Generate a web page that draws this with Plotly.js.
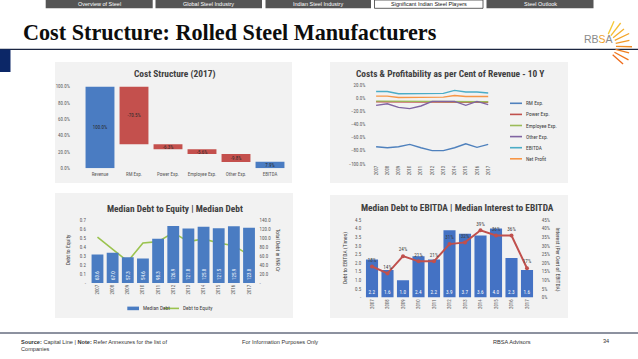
<!DOCTYPE html>
<html><head><meta charset="utf-8">
<script src="https://cdn.plot.ly/plotly-3.0.1.min.js"></script>
<style>html,body{margin:0;padding:0;background:#fff;overflow:hidden}#chart{width:638px;height:359px}</style>
</head><body><div id="chart"></div>
<script>
// ================= DATA =================
const navTabs = ['Overview of Steel', 'Global Steel Industry', 'Indian Steel Industry', 'Significant Indian Steel Players', 'Steel Outlook'];
const activeTab = 3;
const pageTitle = 'Cost Structure: Rolled Steel Manufacturers';

// Chart 1: Cost Structure (2017)
const costTitle = 'Cost Structure (2017)';
const costCategories = ['Revenue', 'RM Exp.', 'Power Exp.', 'Employee Exp.', 'Other Exp.', 'EBITDA'];
const costValues = [100.0, -70.5, -6.3, -5.6, -9.8, 7.9];
const costMeasures = ['absolute', 'relative', 'relative', 'relative', 'relative', 'absolute'];

// Chart 2: Costs & Profitability as per cent of revenue
const trendTitle = 'Costs & Profitability as per Cent of Revenue - 10 Y';
const years = ['2007', '2008', '2009', '2010', '2011', '2012', '2013', '2014', '2015', '2016', '2017'];
const rmExp       = [-74.0, -75.5, -74.0, -70.5, -75.5, -80.0, -80.0, -75.5, -69.5, -75.0, -70.5];
const powerExp    = [-5.5, -5.5, -6.0, -6.0, -6.0, -6.0, -6.0, -6.0, -6.2, -6.2, -6.3];
const employeeExp = [-4.5, -4.5, -5.0, -5.0, -5.0, -5.0, -5.0, -5.0, -5.5, -5.5, -5.6];
const otherExp    = [-11.0, -8.5, -14.0, -16.0, -12.0, -5.0, -5.0, -5.0, -11.0, -5.0, -9.8];
const ebitda      = [10.2, 10.2, 6.7, 6.7, 6.7, 7.2, 7.2, 11.8, 9.3, 9.3, 7.9];
const netProfit   = [3.0, 3.0, 1.0, 1.0, 1.0, 1.5, 1.5, 4.0, 2.5, 2.5, 2.6];
const trendNames  = ['RM Exp.', 'Power Exp.', 'Employee Exp.', 'Other Exp.', 'EBITDA', 'Net Profit'];

// Chart 3: Median Debt to Equity | Median Debt
const deTitle = 'Median Debt to Equity | Median Debt';
const medianDebt   = [63.6, 67.0, 57.3, 54.6, 98.3, 126.9, 121.0, 125.0, 121.5, 125.9, 123.0];
const debtToEquity = [0.51, 0.38, 0.24, 0.445, 0.46, 0.56, 0.46, 0.49, 0.445, 0.415, 0.31];
const deLeftTickVals  = [0, 0.1, 0.2, 0.3, 0.4, 0.5, 0.6, 0.7];
const deLeftTickText  = ['-', '0.1', '0.2', '0.3', '0.4', '0.5', '0.6', '0.7'];
const deRightTickVals = [0, 20, 40, 60, 80, 100, 120, 140];
const deRightTickText = ['-', '20.0', '40.0', '60.0', '80.0', '100.0', '120.0', '140.0'];
const deLegend = ['Median Debt', 'Debt to Equity'];
const deLeftTitle = 'Debt to Equity';
const deRightTitle = 'Total Debt in INR Cr';

// Chart 4: Median Debt to EBITDA | Median Interest to EBITDA
const ebTitle = 'Median Debt to EBITDA | Median Interest to EBITDA';
const debtToEbitda     = [2.2, 1.6, 1.0, 2.4, 2.2, 3.9, 3.7, 3.6, 4.0, 2.3, 1.6];
const interestToEbitda = [18, 14, 24, 21, 21, 31, 32, 39, 36, 36, 17];
const ebLeftTickVals  = [0, 0.5, 1, 1.5, 2, 2.5, 3, 3.5, 4, 4.5];
const ebLeftTickText  = ['-', '0.5', '1.0', '1.5', '2.0', '2.5', '3.0', '3.5', '4.0', '4.5'];
const ebRightTickVals = [0, 5, 10, 15, 20, 25, 30, 35, 40, 45];
const ebRightTickText = ['0%', '5%', '10%', '15%', '20%', '25%', '30%', '35%', '40%', '45%'];
const ebLeftTitle = 'Debt to EBITDA (Times)';
const ebRightTitle = 'Interest (Per Cent of EBITDA)';

const footerSource = '<b>Source:</b> Capital Line | <b>Note:</b> Refer Annexures for the list of<br>Companies';
const footerMid = 'For Information Purposes Only';
const footerFirm = 'RBSA Advisors';
const pageNumber = '34';

// ================= LAYOUT HELPERS =================
const W = 638, H = 359;
const X = p => p / W;
const Y = p => 1 - p / H;
const NARROW = 'Liberation Sans Narrow, Roboto Condensed, Roboto, sans-serif';
const TICK = {family: NARROW, size: 5, color: '#595959'};
const BLUE = '#4a7cc2', RED = '#c4504d';

const shapes = [], annotations = [];
function rect(x0, y0, x1, y1, fill, line) {
  shapes.push({type: 'rect', xref: 'paper', yref: 'paper', x0: X(x0), x1: X(x1), y0: Y(y1), y1: Y(y0),
    fillcolor: fill, line: line || {width: 0}, layer: 'below'});
}
function hline(x0, x1, y, color, w) {
  shapes.push({type: 'line', xref: 'paper', yref: 'paper', x0: X(x0), x1: X(x1), y0: Y(y), y1: Y(y),
    line: {color: color, width: w}, layer: 'below'});
}
function text(t, x, y, opt) {
  annotations.push(Object.assign({text: t, xref: 'paper', yref: 'paper', x: X(x), y: Y(y), showarrow: false,
    xanchor: 'center', yanchor: 'middle', font: {family: NARROW, size: 5.5, color: '#404040'}}, opt || {}));
}

// ---- nav bar ----
const tabEdges = [[45.7, 152.7], [155.5, 262], [265.5, 371], [374.5, 483], [486.5, 593.5]];
navTabs.forEach((t, i) => {
  const [a, b] = tabEdges[i];
  if (i === activeTab) {
    rect(a, 0, b, 8.3, '#ffffff', {color: '#3a3a3a', width: 0.8});
  } else {
    rect(a, 0, b, 8.3, '#555555');
  }
  text(t, (a + b) / 2, 4.3, {font: {family: 'Liberation Sans, Arial, sans-serif', size: 5.5,
    color: i === activeTab ? '#111111' : '#ffffff'}});
});

// ---- page title & rules ----
text('<b>' + pageTitle + '</b>', 21, 32.5, {xanchor: 'left',
  font: {family: 'Liberation Serif, DejaVu Serif, serif', size: 22.2, color: '#0d0d0d'}});
hline(0, 638, 49.4, '#1b2540', 1.2);
rect(0, 49.4, 10.5, 72, '#0c2767');
hline(0, 638, 333, '#1b2540', 1);

// ---- RBSA logo ----
text('RB<span style="color:#f0a02a">S</span>A', 598.5, 38.6, {font: {family: 'Liberation Sans, Arial, sans-serif', size: 10.5, color: '#8a8a8a'}});
for (let k = 0; k < 9; k++) {
  const deg = 66 - k * 13.5, a = deg * Math.PI / 180;
  const cx = 603, cy = 46, r1 = 13, r2 = 27 + (k % 2) * 2;
  const c = ['#f6c935', '#f5bd30', '#f4b02c', '#f3a428', '#f29725', '#f18b22', '#f07f1f', '#ef751c', '#ee6b1a'][k];
  shapes.push({type: 'line', xref: 'paper', yref: 'paper',
    x0: X(cx + r1 * Math.cos(a)), y0: Y(cy - r1 * Math.sin(a)),
    x1: X(cx + r2 * Math.cos(a)), y1: Y(cy - r2 * Math.sin(a)),
    line: {color: c, width: 1.3}});
}

// ---- chart panels ----
rect(55, 62, 292, 183, '#f2f2f2');
rect(330, 62, 568, 183, '#f2f2f2');
rect(55, 193, 293, 318, '#f2f2f2');
rect(330, 195, 568, 318, '#f2f2f2');

const TITLEFONT = {family: NARROW, size: 9.4, color: '#404040', weight: 700};
text(costTitle, 174, 73.5, {font: TITLEFONT});
text(trendTitle, 450.5, 73.5, {font: TITLEFONT});
text(deTitle, 175, 208, {font: TITLEFONT});
text(ebTitle, 457, 207.5, {font: TITLEFONT});

// ---- footer ----
text(footerSource, 19, 345, {xanchor: 'left', align: 'left', font: {family: 'Liberation Sans, Arial, sans-serif', size: 5.6, color: '#333333'}});
text(footerMid, 240, 341.5, {xanchor: 'left', font: {family: 'Liberation Sans, Arial, sans-serif', size: 5.6, color: '#333333'}});
text(footerFirm, 491, 341.5, {xanchor: 'left', font: {family: 'Liberation Sans, Arial, sans-serif', size: 5.6, color: '#333333'}});
text(pageNumber, 601, 341, {xanchor: 'left', font: {family: 'Liberation Sans, Arial, sans-serif', size: 5.6, color: '#333333'}});

// ================= TRACES =================
const traces = [];

// Chart 1 waterfall
traces.push({
  type: 'waterfall', xaxis: 'x', yaxis: 'y', x: costCategories, y: costValues, measure: costMeasures,
  width: 0.85, connector: {visible: false},
  increasing: {marker: {color: BLUE}}, decreasing: {marker: {color: RED}}, totals: {marker: {color: BLUE}},
  text: costValues.map(v => v.toFixed(1) + '%'), textposition: 'inside', insidetextanchor: 'middle',
  constraintext: 'none', textfont: {family: NARROW, size: 5, color: '#2b2b2b'},
  hoverinfo: 'skip', showlegend: false
});

// Chart 2 lines
const trendSeries = [rmExp, powerExp, employeeExp, otherExp, ebitda, netProfit];
const trendColors = ['#4f81bd', '#c0504d', '#9bbb59', '#8064a2', '#4bacc6', '#f79646'];
trendSeries.forEach((s, i) => {
  traces.push({type: 'scatter', mode: 'lines', xaxis: 'x2', yaxis: 'y2', x: years, y: s, name: trendNames[i],
    line: {color: trendColors[i], width: 1.4}, hoverinfo: 'skip', showlegend: false});
});
// end-value callouts
const calloutOffsets = [[14, 9], [14, 0.5], [13, -3.5], [13, 20], [14, -13], [13, -4]];
trendSeries.forEach((s, i) => {
  const v = s[s.length - 1];
  annotations.push({xref: 'x2', yref: 'y2', x: years[years.length - 1], y: v,
    text: v.toFixed(1) + '%', showarrow: true, arrowhead: 0, arrowwidth: 0.5, arrowcolor: '#9a9a9a',
    ax: calloutOffsets[i][0], ay: calloutOffsets[i][1], xanchor: 'left', standoff: 0,
    font: {family: NARROW, size: 5, color: '#404040'}});
});
// legend
trendNames.forEach((n, i) => {
  const yy = 103.3 + i * 11.1;
  shapes.push({type: 'line', xref: 'paper', yref: 'paper', x0: X(510), x1: X(522), y0: Y(yy), y1: Y(yy),
    line: {color: trendColors[i], width: 1.6}});
  text(n, 523.5, yy, {xanchor: 'left', font: {family: NARROW, size: 5.4, color: '#404040'}});
});

// Chart 3
traces.push({type: 'bar', xaxis: 'x3', yaxis: 'y4', x: years, y: medianDebt, width: 0.78, name: deLegend[0],
  marker: {color: BLUE}, text: medianDebt.map(v => v.toFixed(1)), textposition: 'inside', insidetextanchor: 'start',
  textangle: -90, constraintext: 'none', textfont: {family: NARROW, size: 5, color: '#ffffff'},
  hoverinfo: 'skip', showlegend: false});
traces.push({type: 'scatter', mode: 'lines+text', xaxis: 'x3', yaxis: 'y3', x: years, y: debtToEquity, name: deLegend[1],
  line: {color: '#9bc34f', width: 1.6},
  text: debtToEquity.map((v, i) => i === debtToEquity.length - 1 ? v.toFixed(1) : ''),
  textposition: 'top center', textfont: {family: NARROW, size: 5.5, color: '#2b2b2b'},
  hoverinfo: 'skip', showlegend: false});
rect(127.3, 306.6, 139, 310.2, BLUE);
shapes.push({type: 'line', xref: 'paper', yref: 'paper', x0: X(164), x1: X(179), y0: Y(308.4), y1: Y(308.4),
  line: {color: '#9bc34f', width: 1.6}});
text(deLegend[0], 140.5, 308.4, {xanchor: 'left', font: {family: NARROW, size: 5.4, color: '#404040'}});
text(deLegend[1], 180.5, 308.4, {xanchor: 'left', font: {family: NARROW, size: 5.4, color: '#404040'}});
text(deLeftTitle, 68.3, 250, {textangle: -90, font: {family: NARROW, size: 5.6, color: '#404040'}});
text(deRightTitle, 278.3, 250, {textangle: 90, font: {family: NARROW, size: 5.6, color: '#404040'}});

// Chart 4
traces.push({type: 'bar', xaxis: 'x4', yaxis: 'y5', x: years, y: debtToEbitda, width: 0.78,
  marker: {color: '#4472c4'}, text: debtToEbitda.map(v => v.toFixed(1)), textposition: 'inside', insidetextanchor: 'start',
  textangle: 0, constraintext: 'none', textfont: {family: NARROW, size: 5.2, color: '#ffffff'},
  hoverinfo: 'skip', showlegend: false});
traces.push({type: 'scatter', mode: 'lines+markers+text', xaxis: 'x4', yaxis: 'y6', x: years, y: interestToEbitda,
  line: {color: '#c0504d', width: 2}, marker: {color: '#c0504d', size: 4},
  text: interestToEbitda.map(v => v + '%'), textposition: 'top center',
  textfont: {family: NARROW, size: 5.2, color: '#404040'}, hoverinfo: 'skip', showlegend: false});
text(ebLeftTitle, 345, 258, {textangle: -90, font: {family: NARROW, size: 5.6, color: '#404040'}});
text(ebRightTitle, 557.5, 259, {textangle: 90, font: {family: NARROW, size: 5.6, color: '#404040'}});

// ================= AXES =================
const base = {showgrid: false, zeroline: false, showline: false, ticks: '', tickfont: TICK, fixedrange: true};
const layout = {
  width: W, height: H, margin: {l: 0, r: 0, t: 0, b: 0}, paper_bgcolor: '#ffffff', plot_bgcolor: 'rgba(0,0,0,0)',
  showlegend: false, hovermode: false, font: {family: NARROW},
  xaxis: Object.assign({}, base, {domain: [X(83), X(287)], anchor: 'y', type: 'category', ticklabelstandoff: 2}),
  yaxis: Object.assign({}, base, {domain: [Y(168.3), Y(86.5)], anchor: 'x', range: [0, 100], dtick: 20,
    tickformat: '.1f', ticksuffix: '%', ticklabelstandoff: 12}),
  xaxis2: Object.assign({}, base, {domain: [X(370.5), X(493.8)], anchor: 'y2', type: 'category', range: [-0.5, 10.5],
    tickangle: -90, tickfont: {family: NARROW, size: 4.8, color: '#595959'}}),
  yaxis2: Object.assign({}, base, {domain: [Y(163.8), Y(85)], anchor: 'x2', range: [-100, 20], dtick: 20,
    tickformat: '.1f', ticksuffix: '%', ticklabelstandoff: 4}),
  xaxis3: Object.assign({}, base, {domain: [X(89.9), X(256.6)], anchor: 'y3', type: 'category', range: [-0.5, 10.5],
    tickangle: -90, tickfont: {family: NARROW, size: 4.8, color: '#595959'}}),
  yaxis3: Object.assign({}, base, {domain: [Y(283), Y(220)], anchor: 'x3', range: [0, 0.7],
    tickvals: deLeftTickVals, ticktext: deLeftTickText, ticklabelstandoff: 3}),
  yaxis4: Object.assign({}, base, {overlaying: 'y3', side: 'right', anchor: 'x3', range: [0, 140],
    tickvals: deRightTickVals, ticktext: deRightTickText, ticklabelstandoff: 2}),
  xaxis4: Object.assign({}, base, {domain: [X(364.25), X(534.75)], anchor: 'y5', type: 'category', range: [-0.5, 10.5],
    tickangle: -90, tickfont: {family: NARROW, size: 4.8, color: '#595959'}}),
  yaxis5: Object.assign({}, base, {domain: [Y(297.5), Y(220)], anchor: 'x4', range: [0, 4.5],
    tickvals: ebLeftTickVals, ticktext: ebLeftTickText, ticklabelstandoff: 2}),
  yaxis6: Object.assign({}, base, {overlaying: 'y5', side: 'right', anchor: 'x4', range: [0, 45],
    tickvals: ebRightTickVals, ticktext: ebRightTickText, ticklabelstandoff: 6}),
  shapes: shapes, annotations: annotations
};

Plotly.newPlot('chart', traces, layout, {staticPlot: true, displayModeBar: false});
</script>
</body></html>
